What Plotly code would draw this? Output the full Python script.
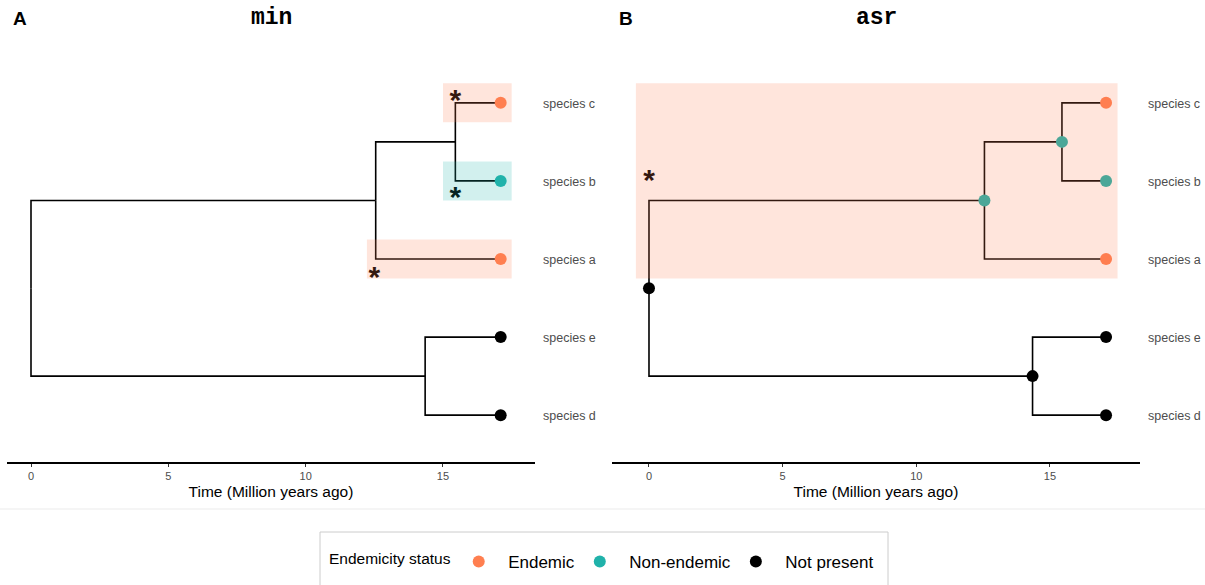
import plotly.graph_objects as go

# ---------------- data ----------------
tip_names = ["species c", "species b", "species a", "species e", "species d"]
tip_y = [5, 4, 3, 2, 1]
tip_time = 17.1
tip_status = ["Endemic", "Non-endemic", "Endemic", "Not present", "Not present"]

# internal nodes: root, (a,(b,c)), (b,c), (d,e)
node_names = ["root", "abc", "bc", "de"]
node_time = [0.0, 12.55, 15.45, 14.35]
node_y = [2.625, 3.75, 4.5, 1.5]
node_status_asr = ["Not present", "Non-endemic", "Non-endemic", "Not present"]

# edges (parent -> child)
edges = [("root", "abc"), ("root", "de"), ("abc", "species a"), ("abc", "bc"),
         ("bc", "species b"), ("bc", "species c"), ("de", "species e"), ("de", "species d")]

status_order = ["Endemic", "Non-endemic", "Not present"]
status_colors = {"Endemic": "#FF7F50", "Non-endemic": "#20B2AA", "Not present": "#000000"}
hl_colors = {"Endemic": "rgba(255,127,80,0.2)", "Non-endemic": "rgba(32,178,170,0.2)"}

# highlights: (x0, x1, y0, y1, status)
hl_min = [(15.0, 17.5, 4.75, 5.25, "Endemic"),
          (15.0, 17.5, 3.75, 4.25, "Non-endemic"),
          (12.23, 17.5, 2.75, 3.25, "Endemic")]
hl_asr = [(-0.49, 17.53, 2.75, 5.25, "Endemic")]

# asterisks (x, y)
ast_min = [(15.45, 5.0), (15.45, 3.76), (12.5, 2.74)]
ast_asr = [(0.0, 3.98)]

xrange_min = [-0.874, 18.35]
xrange_asr = [-1.384, 18.37]
tickvals = [0, 5, 10, 15]

# ---------------- helpers ----------------
pos = {}
for n, t, y in zip(node_names, node_time, node_y):
    pos[n] = (t, y)
for n, y in zip(tip_names, tip_y):
    pos[n] = (tip_time, y)

FONT = "Liberation Sans"
fig = go.Figure()


def add_tree_lines(xa, ya):
    xs, ys = [], []
    for p, c in edges:
        px, py = pos[p]
        cx, cy = pos[c]
        xs += [px, px, cx, None]
        ys += [py, cy, cy, None]
    fig.add_trace(go.Scatter(x=xs, y=ys, mode="lines", line=dict(color="black", width=1.6),
                             xaxis=xa, yaxis=ya, hoverinfo="skip", showlegend=False))


def add_rects(hl, xa, ya):
    for x0, x1, y0, y1, s in hl:
        fig.add_trace(go.Scatter(x=[x0, x1, x1, x0, x0], y=[y0, y0, y1, y1, y0], mode="lines",
                                 fill="toself", fillcolor=hl_colors[s], line=dict(width=0),
                                 xaxis=xa, yaxis=ya, hoverinfo="skip", showlegend=False))


def add_asterisks(ast, xa, ya):
    fig.add_trace(go.Scatter(x=[a[0] for a in ast], y=[a[1] for a in ast], mode="text",
                             text=["<b>*</b>"] * len(ast), textposition="middle center",
                             textfont=dict(family=FONT, size=30, color="#000000"),
                             xaxis=xa, yaxis=ya, hoverinfo="skip", showlegend=False))


def add_points(xa, ya, include_nodes, legend):
    for s in status_order:
        xs, ys = [], []
        for n, y, st in zip(tip_names, tip_y, tip_status):
            if st == s:
                xs.append(tip_time); ys.append(y)
        if include_nodes:
            for n, st in zip(node_names, node_status_asr):
                if st == s:
                    xs.append(pos[n][0]); ys.append(pos[n][1])
        fig.add_trace(go.Scatter(x=xs, y=ys, mode="markers", name="  " + s,
                                 marker=dict(color=status_colors[s], size=12),
                                 legendgroup=s, showlegend=legend,
                                 xaxis=xa, yaxis=ya, hoverinfo="skip"))


# Panel A (min): lines, asterisks, highlights, points on top
add_tree_lines("x", "y")
add_asterisks(ast_min, "x", "y")
add_rects(hl_min, "x", "y")
add_points("x", "y", False, True)

# Panel B (asr): lines, points, asterisks, highlight on top
add_tree_lines("x2", "y2")
add_points("x2", "y2", True, False)
add_asterisks(ast_asr, "x2", "y2")
add_rects(hl_asr, "x2", "y2")

# species labels
annotations = []
for xa in ["x", "x2"]:
    for n, y in zip(tip_names, tip_y):
        annotations.append(dict(x=tip_time, y=y, xref=xa, yref="y" if xa == "x" else "y2",
                                text=n, showarrow=False, xanchor="left", yanchor="middle",
                                xshift=40, yshift=-1, font=dict(family=FONT, size=12.5, color="#4D4D4D")))

# panel titles and tags
dom_a = [7 / 1205, 535 / 1205]
dom_b = [612 / 1205, 1140 / 1205]
ty = (585 - 18) / 585
for txt, dom in [("min", dom_a), ("asr", dom_b)]:
    annotations.append(dict(x=(dom[0] + dom[1]) / 2, y=ty, xref="paper", yref="paper", text="<b>" + txt + "</b>",
                            showarrow=False, xanchor="center", yanchor="middle",
                            font=dict(family="Liberation Mono", size=23, color="black")))
for txt, xp in [("A", 11 / 1205), ("B", 617 / 1205)]:
    annotations.append(dict(x=xp, y=ty, xref="paper", yref="paper", text="<b>" + txt + "</b>",
                            showarrow=False, xanchor="left", yanchor="middle",
                            font=dict(family=FONT, size=19, color="black")))

ydom = [(585 - 462) / 585, (585 - 56) / 585]
axis_common = dict(showgrid=False, zeroline=False, showline=True, linecolor="black", linewidth=1.5,
                   ticks="outside", ticklen=3, tickcolor="#333333", tickwidth=1,
                   tickvals=tickvals, tickfont=dict(family=FONT, size=11, color="#4D4D4D"),
                   title=dict(text="Time (Million years ago)", standoff=5,
                              font=dict(family=FONT, size=15.5, color="black")))
yaxis_common = dict(range=[0.4, 5.6], domain=ydom, visible=False, showgrid=False, zeroline=False)

fig.update_layout(
    width=1205, height=585,
    margin=dict(l=0, r=0, t=0, b=0),
    plot_bgcolor="white", paper_bgcolor="white",
    xaxis=dict(domain=dom_a, range=xrange_min, anchor="y", **axis_common),
    xaxis2=dict(domain=dom_b, range=xrange_asr, anchor="y2", **axis_common),
    yaxis=dict(anchor="x", **yaxis_common),
    yaxis2=dict(anchor="x2", **yaxis_common),
    annotations=annotations,
    shapes=[
        dict(type="line", xref="paper", yref="paper", x0=0, x1=1, y0=(585 - 509) / 585, y1=(585 - 509) / 585,
             line=dict(color="#EBEBEB", width=1)),
        dict(type="rect", xref="paper", yref="paper", x0=320 / 1205, x1=888 / 1205, y0=-0.2, y1=(585 - 532) / 585,
             line=dict(color="#CCCCCC", width=1), fillcolor="rgba(0,0,0,0)"),
    ],
    legend=dict(orientation="h", x=327 / 1205, xanchor="left", y=(585 - 562) / 585, yanchor="middle",
                title=dict(text="Endemicity status", font=dict(family=FONT, size=15.5, color="black")),
                font=dict(family=FONT, size=17, color="black"), bgcolor="rgba(0,0,0,0)",
                itemclick=False, itemdoubleclick=False),
    showlegend=True,
)

fig.write_html("out.html")
